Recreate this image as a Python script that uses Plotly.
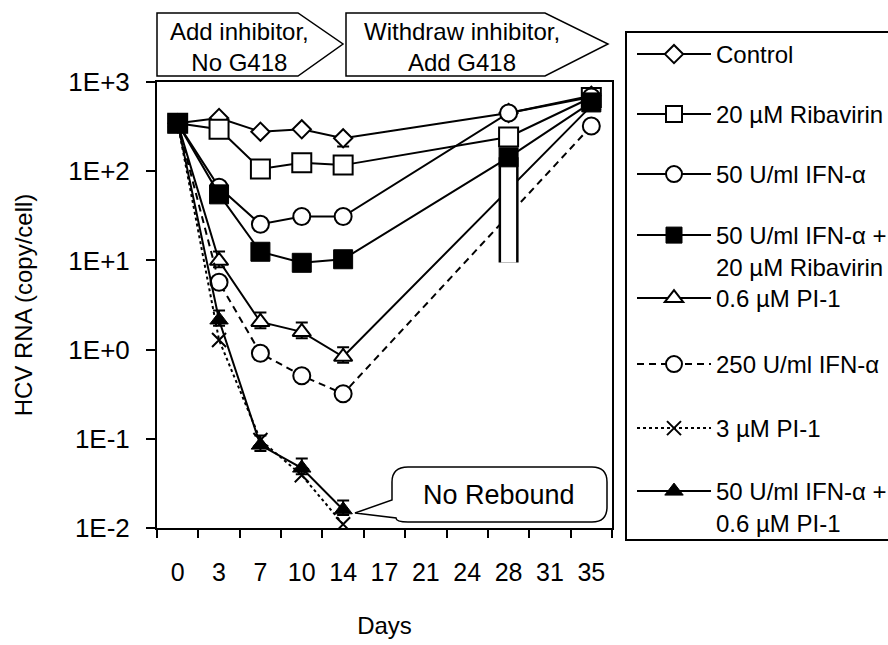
import plotly.graph_objects as go

# ---------------- data ----------------
DAY_LABELS = ["0", "3", "7", "10", "14", "17", "21", "24", "28", "31", "35"]
Y_TICK_VALS = [0.01, 0.1, 1, 10, 100, 1000]
Y_TICK_TEXT = ["1E-2", "1E-1", "1E+0", "1E+1", "1E+2", "1E+3"]

days_long = ["0", "3", "7", "10", "14", "28", "35"]
days_mid = ["0", "3", "7", "10", "14", "35"]
days_short = ["0", "3", "7", "10", "14"]

control = [344, 395, 277, 295, 234, 450, 700]
control_err_up = [0, 0, 0, 0, 0, 0, 0]
control_err_dn = [0, 0, 0, 0, 45, 0, 0]

ribavirin_20 = [344, 295, 106, 124, 117, 242, 670]
ifn_50 = [344, 66, 25.4, 31, 31, 449, 680]
ifn_50_rib_20 = [344, 55, 12.5, 9.4, 10.3, 143, 590]
ifn_50_rib_20_err_dn = [0, 0, 0, 0, 0, 133.5, 0]

pi1_06 = [344, 9.9, 2.04, 1.58, 0.83, 540]
pi1_06_err_up = [0, 2.7, 0.56, 0.43, 0.23, 0]
pi1_06_err_dn = [0, 1.5, 0.3, 0.24, 0.12, 0]

ifn_250 = [344, 5.7, 0.91, 0.51, 0.32, 321]
pi1_3 = [344, 1.28, 0.097, 0.039, 0.011]
ifn_50_pi1_06 = [344, 2.15, 0.085, 0.047, 0.016]
ifn_50_pi1_06_err_up = [0, 0.6, 0.024, 0.013, 0.0044]
ifn_50_pi1_06_err_dn = [0, 0.3, 0.012, 0.007, 0.002]

LEGEND_NAMES = [
    "Control",
    "20 µM Ribavirin",
    "50 U/ml IFN-α",
    "50 U/ml IFN-α +<br>20 µM Ribavirin",
    "0.6 µM PI-1",
    "250 U/ml IFN-α",
    "3 µM PI-1",
    "50 U/ml IFN-α +<br>0.6 µM PI-1",
]

# ---------------- layout helpers ----------------
W, H = 888, 645
ML, MR, MT, MB = 157, 276, 82, 117
PW, PH = W - ML - MR, H - MT - MB
FONT = "Liberation Sans, Arial, sans-serif"
FS = 24
TICK_FS = 25


def px(x):
    return (x - ML) / PW


def py(y):
    return (H - MB - y) / PH


def P(a, b):
    return f"{px(a):.5f},{py(b):.5f}"


def path(points):
    return "M " + " L ".join(P(a, b) for a, b in points) + " Z"


fig = go.Figure()


def open_marker(sym, size):
    return dict(symbol=sym, size=size, color="white", line=dict(color="black", width=2))


def solid_marker(sym, size):
    return dict(symbol=sym, size=size, color="black", line=dict(color="black", width=1))


LINE = dict(color="black", width=2)


def errbar(up, dn, color="black", thick=2, width=6):
    return dict(type="data", symmetric=False, array=up, arrayminus=dn,
                color=color, thickness=thick, width=width)


# 1 Control
fig.add_trace(go.Scatter(x=days_long, y=control, mode="lines+markers", name=LEGEND_NAMES[0],
                         line=LINE, marker=open_marker("diamond", 14),
                         error_y=errbar(control_err_up, control_err_dn),
                         legend="legend"))
# 2 Ribavirin
fig.add_trace(go.Scatter(x=days_long, y=ribavirin_20, mode="lines+markers", name=LEGEND_NAMES[1],
                         line=LINE, marker=open_marker("square", 19), legend="legend2"))
# 3 IFN 50
fig.add_trace(go.Scatter(x=days_long, y=ifn_50, mode="lines+markers", name=LEGEND_NAMES[2],
                         line=LINE, marker=open_marker("circle", 17), legend="legend3"))
# 5 PI-1 0.6
fig.add_trace(go.Scatter(x=days_mid, y=pi1_06, mode="lines+markers", name=LEGEND_NAMES[4],
                         line=LINE, marker=open_marker("triangle-up", 16),
                         error_y=errbar(pi1_06_err_up, pi1_06_err_dn),
                         legend="legend5"))
# 6 IFN 250
fig.add_trace(go.Scatter(x=days_mid, y=ifn_250, mode="lines+markers", name=LEGEND_NAMES[5],
                         line=dict(color="black", width=2, dash="7px,5px"),
                         marker=open_marker("circle", 17), legend="legend6"))
# helper: black outline of the wide day-28 error bar of series 4
fig.add_trace(go.Scatter(x=[days_long[5]], y=[ifn_50_rib_20[5]], mode="markers",
                         marker=dict(size=2, color="rgba(0,0,0,0)"),
                         error_y=errbar([0], [ifn_50_rib_20_err_dn[5]], "black", 20, 0),
                         showlegend=False, hoverinfo="skip"))
# 4 IFN 50 + Ribavirin (white inner part of the wide error bar)
fig.add_trace(go.Scatter(x=days_long, y=ifn_50_rib_20, mode="lines+markers", name=LEGEND_NAMES[3],
                         line=LINE, marker=solid_marker("square", 19),
                         error_y=errbar([0] * len(days_long), ifn_50_rib_20_err_dn, "white", 15, 0),
                         legend="legend4"))
# 7 PI-1 3
fig.add_trace(go.Scatter(x=days_short, y=pi1_3, mode="lines+markers", name=LEGEND_NAMES[6],
                         line=dict(color="black", width=2, dash="3px,3px"),
                         marker=dict(symbol="x-thin", size=14, color="black",
                                     line=dict(color="black", width=2)),
                         legend="legend7"))
# 8 IFN 50 + PI-1 0.6
fig.add_trace(go.Scatter(x=days_short, y=ifn_50_pi1_06, mode="lines+markers", name=LEGEND_NAMES[7],
                         line=LINE, marker=solid_marker("triangle-up", 16),
                         error_y=errbar(ifn_50_pi1_06_err_up, ifn_50_pi1_06_err_dn),
                         legend="legend8"))

# ---------------- legends (one per entry, inside one drawn box) ----------------
legend_rows = [53, 113, 173, 234, 297, 363, 427, 490]
legend_keys = ["legend"] + [f"legend{i}" for i in range(2, 9)]
legends = {}
for key, row in zip(legend_keys, legend_rows):
    legends[key] = dict(x=px(632), y=py(row - 21), xanchor="left", yanchor="top",
                        bgcolor="rgba(0,0,0,0)", borderwidth=0, valign="top",
                        font=dict(family=FONT, size=FS, color="black"),
                        itemwidth=74, tracegroupgap=0)

shapes = [
    # legend box
    dict(type="rect", xref="paper", yref="paper", x0=px(626), x1=px(900),
         y0=py(540), y1=py(32), line=dict(color="black", width=2), layer="below"),
    # phase arrows
    dict(type="path", xref="paper", yref="paper",
         path=path([(157, 13), (298, 13), (343, 44), (298, 76), (157, 76)]),
         line=dict(color="black", width=1.5), fillcolor="white"),
    dict(type="path", xref="paper", yref="paper",
         path=path([(346, 13), (545, 13), (608, 44), (545, 76), (346, 76)]),
         line=dict(color="black", width=1.5), fillcolor="white"),
]

# "No Rebound" callout (rounded box with pointer)
callout = (f"M {P(408, 467)} L {P(592, 467)} Q {P(607, 467)} {P(607, 482)} "
           f"L {P(607, 507)} Q {P(607, 522)} {P(592, 522)} L {P(408, 522)} "
           f"Q {P(396, 522)} {P(396, 518)} L {P(355, 513)} L {P(392, 500)} "
           f"L {P(392, 482)} Q {P(392, 467)} {P(408, 467)} Z")
shapes.append(dict(type="path", xref="paper", yref="paper", path=callout,
                   line=dict(color="black", width=1.5), fillcolor="white"))

annotations = [
    dict(xref="paper", yref="paper", x=px(239), y=py(47), xanchor="center", yanchor="middle",
         text="Add inhibitor,<br>No G418", showarrow=False,
         font=dict(family=FONT, size=FS, color="black"), align="center"),
    dict(xref="paper", yref="paper", x=px(462), y=py(47), xanchor="center", yanchor="middle",
         text="Withdraw inhibitor,<br>Add G418", showarrow=False,
         font=dict(family=FONT, size=FS, color="black"), align="center"),
    dict(xref="paper", yref="paper", x=px(499), y=py(495), xanchor="center", yanchor="middle",
         text="No Rebound", showarrow=False, font=dict(family=FONT, size=27, color="black")),
]

fig.update_layout(
    width=W, height=H,
    margin=dict(l=ML, r=MR, t=MT, b=MB, autoexpand=False),
    paper_bgcolor="white", plot_bgcolor="white",
    font=dict(family=FONT, size=FS, color="black"),
    showlegend=True,
    xaxis=dict(type="category", categoryorder="array", categoryarray=DAY_LABELS,
               range=[-0.5, len(DAY_LABELS) - 0.5], tickson="boundaries",
               ticks="outside", ticklen=8, tickwidth=2, tickcolor="black",
               ticklabelstandoff=21, tickfont=dict(family=FONT, size=TICK_FS),
               showline=True, linewidth=2, linecolor="black", mirror=True,
               showgrid=False, zeroline=False,
               title=dict(text="Days", standoff=32, font=dict(family=FONT, size=FS))),
    yaxis=dict(type="log", range=[-2, 3], tickvals=Y_TICK_VALS, ticktext=Y_TICK_TEXT,
               ticks="outside", ticklen=9, tickwidth=2, tickcolor="black",
               ticklabelstandoff=11, tickfont=dict(family=FONT, size=26),
               showline=True, linewidth=2, linecolor="black", mirror=True,
               showgrid=False, zeroline=False,
               title=dict(text="HCV RNA (copy/cell)", standoff=29,
                          font=dict(family=FONT, size=FS))),
    shapes=shapes,
    annotations=annotations,
    **legends,
)

fig.write_html("out.html")
